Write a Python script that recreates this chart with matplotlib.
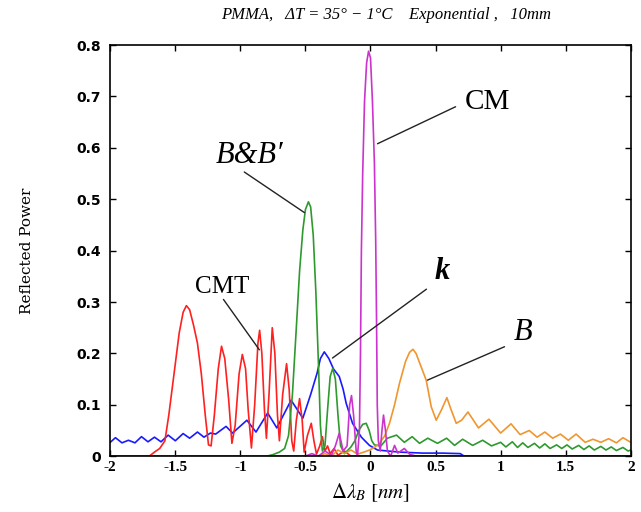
import matplotlib
matplotlib.use("Agg")
import matplotlib.pyplot as plt

plt.rcParams['mathtext.fontset'] = 'stix'

# CMT (red)
cmt_x = [-2.0, -1.70, -1.66, -1.62, -1.58, -1.55, -1.51, -1.47, -1.44, -1.415, -1.39, -1.36, -1.33,
         -1.30, -1.27, -1.245, -1.225, -1.20, -1.17, -1.145, -1.12, -1.09, -1.065, -1.04, -1.01,
         -0.985, -0.96, -0.94, -0.915, -0.89, -0.865, -0.852, -0.835, -0.815, -0.80, -0.78, -0.755,
         -0.735, -0.715, -0.70, -0.675, -0.645, -0.625, -0.605, -0.59, -0.57, -0.545, -0.525, -0.51,
         -0.485, -0.455, -0.435, -0.415, -0.39, -0.37, -0.35, -0.33, -0.31, -0.28, -0.25, -0.20,
         -0.15, 2.0]
cmt_y = [0.0, 0.0, 0.008, 0.015, 0.03, 0.08, 0.16, 0.24, 0.28, 0.293, 0.285, 0.255, 0.22,
         0.16, 0.08, 0.022, 0.02, 0.08, 0.17, 0.214, 0.19, 0.11, 0.025, 0.06, 0.16,
         0.198, 0.17, 0.09, 0.016, 0.10, 0.22, 0.245, 0.20, 0.09, 0.035, 0.12, 0.25,
         0.20, 0.08, 0.03, 0.12, 0.18, 0.13, 0.03, 0.01, 0.07, 0.112, 0.07, 0.008,
         0.04, 0.064, 0.03, 0.004, 0.02, 0.038, 0.01, 0.02, 0.005, 0.015, 0.002, 0.01,
         0.0, 0.0]

# k (blue)
k_x = [-2.0, -1.96, -1.91, -1.86, -1.81, -1.76, -1.71, -1.66, -1.61, -1.555, -1.50, -1.44, -1.39,
       -1.33, -1.28, -1.23, -1.19, -1.11, -1.06, -0.95, -0.88, -0.79, -0.72, -0.61, -0.52,
       -0.46, -0.41, -0.385, -0.355, -0.32, -0.285, -0.24, -0.21, -0.187, -0.138, -0.07,
       -0.008, 0.054, 0.22, 0.40, 0.55, 0.69, 0.72, 2.0]
k_y = [0.027, 0.036, 0.026, 0.031, 0.026, 0.038, 0.028, 0.037, 0.028, 0.041, 0.030, 0.044, 0.035,
       0.047, 0.037, 0.045, 0.043, 0.058, 0.045, 0.070, 0.047, 0.084, 0.055, 0.109, 0.074,
       0.12, 0.162, 0.19, 0.203, 0.19, 0.17, 0.155, 0.13, 0.103, 0.064, 0.037,
       0.021, 0.012, 0.008, 0.006, 0.006, 0.005, 0.0, 0.0]

# B&B' (green)
bb_x = [-2.0, -0.80, -0.75, -0.70, -0.66, -0.63, -0.60, -0.57, -0.545, -0.52, -0.50, -0.477, -0.46,
        -0.44, -0.42, -0.40, -0.385, -0.37, -0.35, -0.33, -0.31, -0.29, -0.27, -0.25, -0.23,
        -0.20, -0.15, -0.12, -0.09, -0.06, -0.033, -0.01, 0.01, 0.03, 0.08, 0.13, 0.20, 0.26,
        0.32, 0.377, 0.44, 0.515, 0.585, 0.646, 0.708, 0.785, 0.862, 0.93, 1.00, 1.04, 1.09,
        1.13, 1.17, 1.21, 1.26, 1.30, 1.34, 1.38, 1.43, 1.47, 1.51, 1.55, 1.60, 1.64, 1.68,
        1.72, 1.77, 1.81, 1.85, 1.89, 1.94, 1.98, 2.0]
bb_y = [0.0, 0.0, 0.003, 0.008, 0.015, 0.04, 0.12, 0.25, 0.36, 0.44, 0.48, 0.495, 0.485,
        0.43, 0.32, 0.18, 0.06, 0.01, 0.02, 0.09, 0.155, 0.171, 0.15, 0.08, 0.02,
        0.005, 0.018, 0.03, 0.05, 0.062, 0.064, 0.05, 0.03, 0.022, 0.02, 0.035, 0.041, 0.027,
        0.038, 0.025, 0.035, 0.025, 0.035, 0.021, 0.033, 0.021, 0.031, 0.02, 0.027, 0.018, 0.028,
        0.017, 0.026, 0.017, 0.025, 0.016, 0.024, 0.015, 0.022, 0.015, 0.022, 0.014, 0.021, 0.013, 0.02,
        0.012, 0.019, 0.012, 0.018, 0.011, 0.017, 0.01, 0.012]

# CM (magenta)
cm_x = [-2.0, -0.50, -0.45, -0.40, -0.35, -0.30, -0.27, -0.24, -0.21, -0.18, -0.16, -0.146, -0.13,
        -0.11, -0.10, -0.085, -0.077, -0.07, -0.06, -0.046, -0.03, -0.015, 0.0, 0.015, 0.03,
        0.04, 0.047, 0.052, 0.06, 0.075, 0.088, 0.10, 0.115, 0.13, 0.155, 0.185, 0.21, 0.26,
        0.30, 0.35, 2.0]
cm_y = [0.0, 0.0, 0.005, 0.0, 0.01, 0.002, 0.02, 0.045, 0.01, 0.02, 0.10, 0.118, 0.08,
        0.01, 0.0, 0.05, 0.2, 0.4, 0.55, 0.69, 0.765, 0.788, 0.775, 0.69, 0.57,
        0.42, 0.25, 0.10, 0.03, 0.01, 0.05, 0.08, 0.05, 0.01, 0.0, 0.021, 0.006, 0.015,
        0.004, 0.0, 0.0]

# B (orange)
b_x = [-2.0, -0.40, -0.35, -0.30, -0.25, -0.20, -0.15, -0.10, -0.05, -0.008, 0.03, 0.069, 0.11,
       0.146, 0.185, 0.223, 0.27, 0.30, 0.326, 0.35, 0.38, 0.41, 0.428, 0.467, 0.505, 0.545,
       0.587, 0.62, 0.659, 0.70, 0.749, 0.83, 0.91, 1.00, 1.08, 1.15, 1.22, 1.28, 1.34, 1.40,
       1.46, 1.52, 1.58, 1.65, 1.71, 1.77, 1.83, 1.89, 1.94, 2.0]
b_y = [0.0, 0.0, 0.005, 0.0, 0.012, 0.005, 0.012, 0.004, 0.008, 0.012, 0.017, 0.025, 0.04,
       0.064, 0.10, 0.142, 0.185, 0.202, 0.208, 0.20, 0.18, 0.16, 0.148, 0.096, 0.07, 0.09,
       0.114, 0.09, 0.064, 0.07, 0.086, 0.055, 0.072, 0.045, 0.063, 0.042, 0.05, 0.037, 0.047, 0.035,
       0.043, 0.031, 0.043, 0.027, 0.033, 0.027, 0.034, 0.026, 0.036, 0.027]

x_ticks = [-2, -1.5, -1, -0.5, 0, 0.5, 1, 1.5, 2]
x_tick_labels = ['-2', '-1.5', '-1', '-0.5', '0', '0.5', '1', '1.5', '2']
y_ticks = [0, 0.1, 0.2, 0.3, 0.4, 0.5, 0.6, 0.7, 0.8]
y_tick_labels = ['0', '0.1', '0.2', '0.3', '0.4', '0.5', '0.6', '0.7', '0.8']

fig = plt.figure(figsize=(6.41, 5.12), dpi=100)
ax = fig.add_axes([0.172, 0.109, 0.812, 0.803])

lw = 1.2
ax.plot(k_x, k_y, color='#1a1aff', lw=lw)
ax.plot(cmt_x, cmt_y, color='#ff2020', lw=lw)
ax.plot(bb_x, bb_y, color='#2e9a2e', lw=lw)
ax.plot(b_x, b_y, color='#f0962e', lw=lw)
ax.plot(cm_x, cm_y, color='#cc33cc', lw=lw)

ax.set_xlim(-2, 2)
ax.set_ylim(0, 0.8)
ax.set_xticks(x_ticks)
ax.set_xticklabels(x_tick_labels, fontfamily='Liberation Serif', fontweight='bold', fontsize=11)
ax.set_yticks(y_ticks)
ax.set_yticklabels(y_tick_labels, fontfamily='DejaVu Sans', fontweight='bold', fontsize=10)
ax.tick_params(direction='in', top=True, right=True, length=4, width=1)
ax.tick_params(axis='y', pad=7)
for s in ax.spines.values():
    s.set_linewidth(1.2)

ax.set_ylabel('Reflected Power', fontfamily='DejaVu Serif', fontsize=11, labelpad=30)
ax.set_xlabel(r'$\Delta\lambda_B\ [nm]$', fontsize=15, labelpad=5)
ax.set_title('PMMA,   ΔT = 35° − 1°C    Exponential ,   10mm',
             fontfamily='Liberation Serif', fontstyle='italic', fontsize=12, pad=19, x=0.53)

arrow = dict(arrowstyle='-', color='#222222', lw=1.0, shrinkA=0, shrinkB=0)
serif = 'Liberation Serif'
ax.text(0.90, 0.69, 'CM', fontfamily=serif, fontsize=21, ha='center', va='center')
ax.annotate('', xy=(0.054, 0.608), xytext=(0.654, 0.68), arrowprops=arrow)
ax.text(-1.14, 0.33, 'CMT', fontfamily=serif, fontsize=18, ha='center', va='center')
ax.annotate('', xy=(-0.854, 0.207), xytext=(-1.13, 0.305), arrowprops=arrow)
ax.text(-0.93, 0.585, 'B&B′', fontfamily=serif, fontstyle='italic', fontsize=22,
        ha='center', va='center')
ax.annotate('', xy=(-0.508, 0.474), xytext=(-0.97, 0.553), arrowprops=arrow)
ax.text(0.55, 0.36, 'k', fontfamily=serif, fontstyle='italic', fontweight='bold', fontsize=22,
        ha='center', va='center')
ax.annotate('', xy=(-0.292, 0.191), xytext=(0.43, 0.325), arrowprops=arrow)
ax.text(1.17, 0.24, 'B', fontfamily=serif, fontstyle='italic', fontsize=22,
        ha='center', va='center')
ax.annotate('', xy=(0.438, 0.148), xytext=(1.03, 0.213), arrowprops=arrow)

fig.savefig('out.png', dpi=100)
